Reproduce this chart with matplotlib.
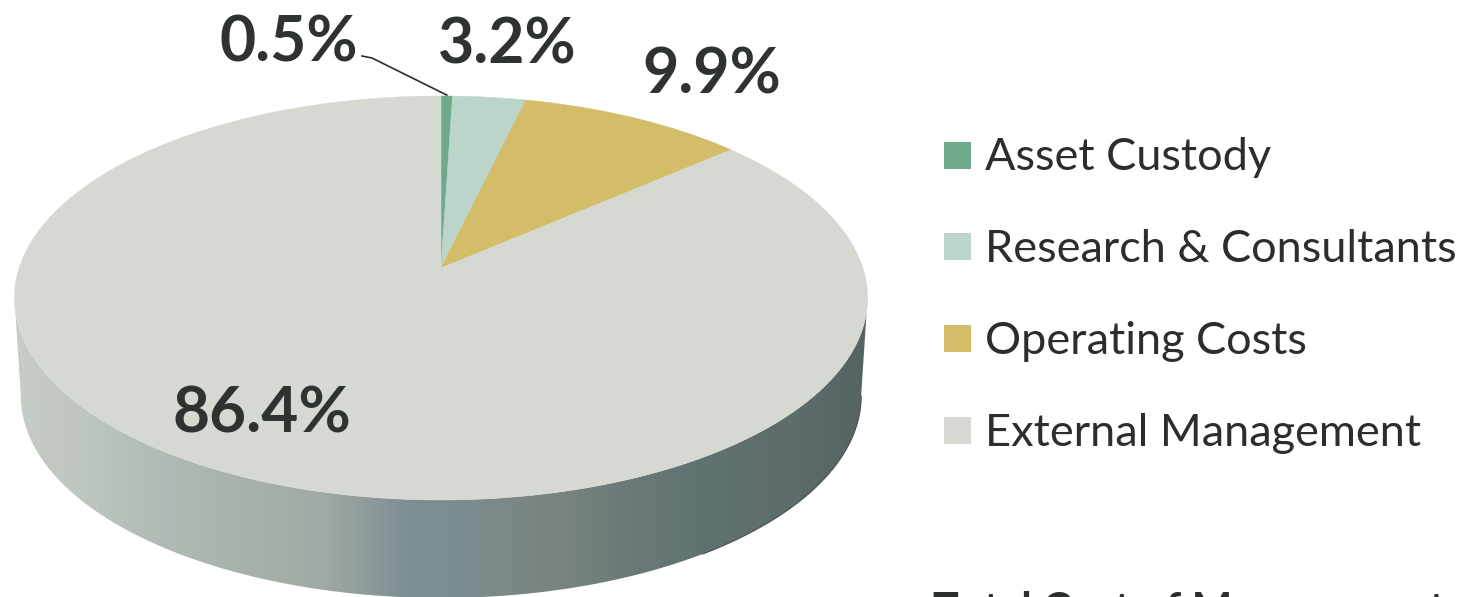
import numpy as np
import matplotlib
matplotlib.use("Agg")
import matplotlib.pyplot as plt
from matplotlib.colors import to_rgb
from matplotlib.patches import Polygon, Rectangle

# Cost shares, in percent, clockwise from twelve o'clock
categories = ["Asset Custody", "Research & Consultants", "Operating Costs", "External Management"]
shares = [0.5, 3.2, 9.9, 86.4]
share_labels = ["0.5%", "3.2%", "9.9%", "86.4%"]
footer = "Total Cost of Management"

colors = ["#6fa98c", "#bcd5cb", "#d3bd68", "#d6d9d1"]
edge_tones = ["#c6cdc6", "#bcc5be", "#b0bab4", "#a8b2ab", "#a0a9a3", "#7f9094",
              "#7a8b8d", "#7a8480", "#687978", "#5f7170", "#5c6d6b", "#556462"]

W, H = 1468, 597
fig = plt.figure(figsize=(W / 100, H / 100), dpi=100, facecolor="white")
ax = fig.add_axes([0, 0, 1, 1])
ax.set_xlim(0, W)
ax.set_ylim(H, 0)
ax.axis("off")
FONT = "Lato"

# Perspective projection of the unit disc onto the page
CX, CY = 441, 268
A, B, K = 421.8, 197.5, 0.1485
DEPTH = 98


def project(t):
    u, v = np.sin(t), np.cos(t)
    d = 1 + K * v
    return CX + A * u / d, CY - B * v / d


# Upper and lower rims of the disc
t_all = np.linspace(0, 2 * np.pi, 721)
x0, y0 = project(t_all)
x1 = CX + (x0 - CX) * 0.985
y1 = y0 + DEPTH

# Side wall between the rims, shaded left to right
stops = np.array([to_rgb(c) for c in edge_tones])
pos = np.linspace(0, 1, len(stops))
g = np.linspace(0, 1, 900)
grad = np.column_stack([np.interp(g, pos, stops[:, i]) for i in range(3)])[None, :, :]
im = ax.imshow(grad, extent=(x0.min(), x0.max(), 610, 250), aspect="auto", zorder=1)
ax.set_xlim(0, W)
ax.set_ylim(H, 0)

i_r, i_l = np.argmax(x0), np.argmin(x0)
front_top = np.column_stack([x0[i_r:i_l + 1], y0[i_r:i_l + 1]])
front_low = np.column_stack([x1[i_r:i_l + 1], y1[i_r:i_l + 1]])
clip = Polygon(np.vstack([front_low, front_top[::-1]]), closed=True,
               transform=ax.transData, facecolor="none", edgecolor="none")
ax.add_patch(clip)
im.set_clip_path(clip)

# Thin dark line along the shaded right end of the wall
right_part = front_low[front_low[:, 0] > CX + 260]
ax.plot(right_part[:, 0], right_part[:, 1], color="#46514f", lw=0.8, zorder=1.5)

# Top face, one projected wedge per category
fractions = np.cumsum([0] + shares) / sum(shares)
for i, c in enumerate(colors):
    t = np.linspace(fractions[i], fractions[i + 1], 400) * 2 * np.pi
    x, y = project(t)
    pts = np.vstack([[CX, CY], np.column_stack([x, y])])
    ax.add_patch(Polygon(pts, closed=True, facecolor=c, edgecolor=c, linewidth=0.4, zorder=2))

# Value labels and the leader to the thinnest wedge
dark = "#2e3231"
label_xy = [(289, 43), (507, 46), (712, 75), (262, 414)]
sizes = [45, 45, 45, 46]
for s, (x, y), fs in zip(share_labels, label_xy, sizes):
    ax.text(x, y, s, ha="center", va="center", fontsize=fs, fontweight="bold",
            color=dark, family=FONT, zorder=4)
mid = (fractions[0] + fractions[1]) * np.pi
lx, ly = project(mid)
ax.plot([362, 372, lx], [56, 58, ly - 1], color="#2b2e2e", lw=1.2, zorder=3)

# Legend
legend_y = [156, 247, 339, 431]
for c, name, y in zip(colors, categories, legend_y):
    ax.add_patch(Rectangle((944, y - 14), 27, 27, facecolor=c, edgecolor="none", zorder=3))
    ax.text(985, y + 2, name, ha="left", va="center", fontsize=32.5, color="#2b2e2e",
            family=FONT, zorder=3)

ax.text(933, 611, footer, ha="left", va="center", fontsize=31, fontweight="bold",
        color="#2b2e2e", family=FONT, zorder=3)

fig.savefig("out.png", dpi=100, facecolor="white")
